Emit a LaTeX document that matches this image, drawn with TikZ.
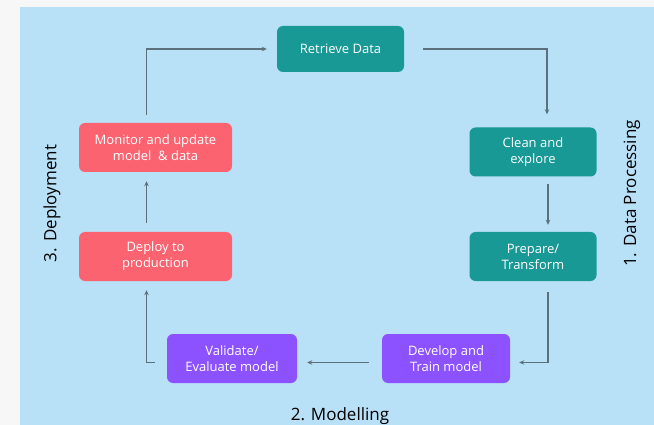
\documentclass[tikz,border=0pt]{standalone}
\usepackage{fontspec}
\setmainfont{Open Sans}
\usetikzlibrary{arrows.meta}
\definecolor{bgBlue}{RGB}{184,224,246}
\definecolor{pageGray}{RGB}{247,247,247}
\definecolor{tealBox}{RGB}{24,153,150}
\definecolor{pinkBox}{RGB}{252,99,112}
\definecolor{purpleBox}{RGB}{140,82,255}
\definecolor{lineGray}{RGB}{92,112,124}
\newcommand{\myBoxes}{%%
  %% 1. Data processing boxes.
  \node[boxStyle,fill=tealBox,minimum width=127,minimum height=46]
    (retrieve) at (retrieveC) {Retrieve Data};
  \node[boxStyle,fill=tealBox] (clean) at (cleanC) {Clean and\\explore};
  \node[boxStyle,fill=tealBox] (prepare) at (prepareC) {Prepare/\\Transform};
  %% 2. Modelling boxes.
  \node[boxStyle,fill=purpleBox,minimum width=128] (develop) at (developC)
    {Develop and\\Train model};
  \node[boxStyle,fill=purpleBox,minimum width=130] (validate) at (validateC)
    {Validate/\\Evaluate model};
  %% 3. Deployment boxes.
  \node[boxStyle,fill=pinkBox,minimum width=153] (deploy) at (deployC)
    {Deploy to\\production};
  \node[boxStyle,fill=pinkBox,minimum width=153] (monitor) at (monitorC)
    {Monitor and update\\model \ \& data};
}
\newcommand{\myArrows}{%%
  %% Monitor to retrieve.
  \draw[arrowStyle,shorten <=8pt,shorten >=10pt]
    ([xshift=-9pt]monitor.north) |- (retrieve.west);
  %% Retrieve to clean.
  \draw[arrowStyle,shorten <=19pt,shorten >=13pt]
    (retrieve.east) -| ([xshift=14pt]clean.north);
  %% Clean to prepare.
  \draw[arrowStyle,shorten <=7pt,shorten >=7pt]
    ([xshift=15pt]clean.south) -- ([xshift=15pt]prepare.north);
  %% Prepare to develop.
  \draw[arrowStyle,shorten <=11pt,shorten >=9pt]
    ([xshift=15pt]prepare.south) |- ([yshift=-4pt]develop.east);
  %% Develop to validate.
  \draw[arrowStyle,shorten <=13pt,shorten >=10pt]
    ([yshift=-4pt]develop.west) -- ([yshift=-4pt]validate.east);
  %% Validate to deploy.
  \draw[arrowStyle,shorten <=12pt,shorten >=9pt]
    ([yshift=-4pt]validate.west) -| ([xshift=-9pt]deploy.south);
  %% Deploy to monitor.
  \draw[arrowStyle,shorten <=9pt,shorten >=9pt]
    ([xshift=-9pt]deploy.north) -- ([xshift=-9pt]monitor.south);
}
\begin{document}
\begin{tikzpicture}[%%
  x=1pt,y=-1pt,
  boxStyle/.style={rounded corners=6pt,text=white,align=center,
    minimum width=127,minimum height=49,inner sep=2pt,
    font=\fontsize{13}{16}\selectfont},
  arrowStyle/.style={draw=lineGray,line width=1.3pt,
    -{Stealth[length=5pt,width=4.5pt]}},
  labelStyle/.style={font=\fontsize{17}{20}\selectfont,text=black}
]
%%
%% Page and background.
\fill[pageGray] (0,0) rectangle (654,425);
\fill[bgBlue] (20,7) rectangle (654,425);
\useasboundingbox (0,0) rectangle (654,425);
%%
%% Centres of the boxes (in pixels of the reference).
\coordinate (retrieveC) at (340.5,49);
\coordinate (cleanC) at (533,152);
\coordinate (prepareC) at (533,256.5);
\coordinate (developC) at (446,358.5);
\coordinate (validateC) at (232,358.5);
\coordinate (deployC) at (155.5,256.5);
\coordinate (monitorC) at (155.5,147.5);
%%
\myBoxes
\myArrows
%%
%% Stage labels.
\node[labelStyle,rotate=90] (dataLabel) at (632,193.5) {1. Data Processing};
\node[labelStyle,anchor=base] (modelLabel) at (340,420) {2. Modelling};
\node[labelStyle,rotate=90] (deployLabel) at (52,203.5) {3. Deployment};
\end{tikzpicture}
\end{document}
